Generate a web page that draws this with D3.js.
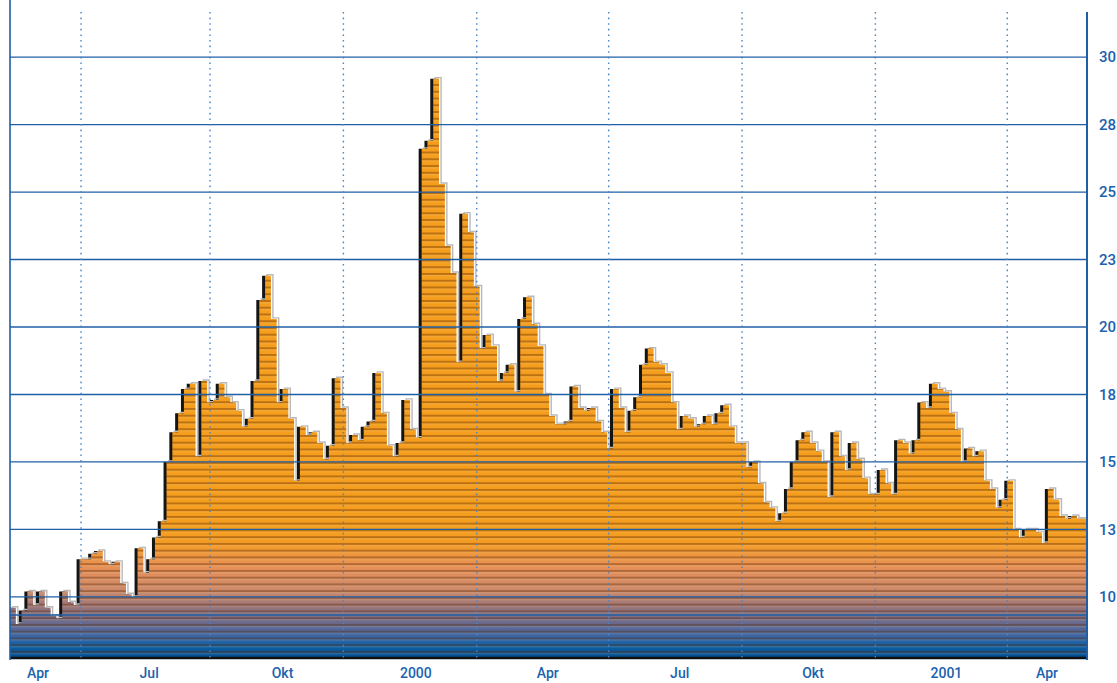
<!DOCTYPE html>
<html>
<head>
<meta charset="utf-8">
<script src="https://cdn.jsdelivr.net/npm/d3@7"></script>
<style>
    body { margin: 0; background: #fff; }
    #chart-area { width: 1117px; height: 683px; }
    .axis-label {
        font-family: Roboto, "Liberation Sans", sans-serif;
        font-weight: 500;
        font-size: 15px;
        fill: #1a62ae;
    }
    .x-label { font-size: 14px; }
</style>
</head>
<body>
<div id="chart-area"></div>
<script>

// first observation, then one value every 4 days
const startDate = "1999-03-27";
const stepDays = 4;

const prices = [
    9.6, 9.0, 9.5, 10.2, 9.7, 10.2, 9.6, 9.3, 9.2, 10.2,
    9.8, 9.7, 11.4, 11.4, 11.6, 11.7, 11.3, 11.2, 11.3, 10.5,
    10.1, 10.0, 11.8, 10.9, 11.4, 12.2, 12.8, 15.0, 16.1, 16.8,
    17.7, 17.9, 15.2, 18.0, 17.2, 17.3, 17.9, 17.4, 17.2, 16.9,
    16.3, 16.6, 18.0, 21.0, 21.9, 20.3, 17.2, 17.7, 16.6, 14.3,
    16.3, 16.0, 16.1, 15.7, 15.1, 15.6, 18.1, 17.0, 15.7, 16.0,
    15.8, 16.3, 16.5, 18.3, 16.8, 15.6, 15.2, 15.7, 17.3, 16.2,
    15.9, 26.6, 26.9, 29.2, 25.3, 23.0, 22.0, 18.7, 24.2, 23.5,
    21.5, 19.2, 19.7, 19.3, 18.0, 18.3, 18.6, 17.6, 20.3, 21.1,
    20.1, 19.3, 17.5, 16.7, 16.4, 16.4, 16.5, 17.8, 17.0, 16.9,
    17.0, 16.5, 16.1, 15.5, 17.7, 17.0, 16.1, 16.9, 17.4, 18.6,
    19.2, 18.7, 18.6, 18.3, 17.2, 16.2, 16.7, 16.6, 16.3, 16.4,
    16.7, 16.4, 16.8, 17.1, 16.3, 15.7, 15.7, 14.8, 15.0, 14.2,
    13.5, 13.3, 12.8, 13.1, 14.0, 15.0, 15.8, 16.1, 15.7, 15.4,
    15.0, 13.7, 16.1, 15.2, 14.7, 15.7, 15.1, 14.4, 13.8, 13.8,
    14.7, 14.2, 13.8, 15.8, 15.7, 15.3, 15.8, 17.2, 17.0, 17.9,
    17.7, 17.6, 16.8, 16.2, 15.0, 15.5, 15.2, 15.4, 14.3, 14.0,
    13.3, 13.6, 14.3, 12.5, 12.2, 12.5, 12.5, 12.4, 12.0, 14.0,
    13.6, 13.0, 12.9, 13.0, 12.9, 12.9
];

const timeDomain = ["1999-03-27", "2001-04-08"];
const priceDomain = [7.7, 31.67];

const monthTicks = ["1999-04-01", "1999-07-01", "1999-10-01", "2000-01-01", "2000-04-01",
    "2000-07-01", "2000-10-01", "2001-01-01", "2001-04-01"];
const monthLabels = ["Apr", "Jul", "Okt", "2000", "Apr", "Jul", "Okt", "2001", "Apr"];

// dotted separators
const quarterMarks = ["1999-05-15", "1999-08-12", "1999-11-12", "2000-02-12",
    "2000-05-13", "2000-08-13", "2000-11-13", "2001-02-12"];

const priceTicks = [10, 12.5, 15, 17.5, 20, 22.5, 25, 27.5, 30];
const priceLabels = ["10", "13", "15", "18", "20", "23", "25", "28", "30"];
const extraLines = [9.33];


class PriceChart {

    constructor(_parentElement, _data) {
        this.parentElement = _parentElement;
        this.data = _data;
        this.initVis();
    }

    initVis() {
        let vis = this;

        vis.margin = { top: 12, right: 30, bottom: 24, left: 10 };
        vis.width = 1117 - vis.margin.left - vis.margin.right;
        vis.height = 683 - vis.margin.top - vis.margin.bottom;

        vis.root = d3.select("#" + vis.parentElement).append("svg")
            .attr("width", 1117)
            .attr("height", 683);

        vis.svg = vis.root.append("g")
            .attr("transform", "translate(" + vis.margin.left + "," + vis.margin.top + ")");

        let parse = d3.timeParse("%Y-%m-%d");

        vis.x = d3.scaleTime()
            .domain(timeDomain.map(parse))
            .range([0, vis.width]);

        vis.y = d3.scaleLinear()
            .domain(priceDomain)
            .range([vis.height, 0]);

        let defs = vis.root.append("defs");

        defs.append("clipPath").attr("id", "plot-clip")
            .append("rect")
            .attr("x", 0).attr("y", -vis.margin.top)
            .attr("width", vis.width).attr("height", vis.height + vis.margin.top);

        // orange -> blue fade at the foot of the area
        let grad = defs.append("linearGradient")
            .attr("id", "fade")
            .attr("gradientUnits", "userSpaceOnUse")
            .attr("x1", 0).attr("x2", 0)
            .attr("y1", vis.height - 129).attr("y2", vis.height);
        [
            [0, "#f59e1e"], [0.1, "#f39c26"], [0.3, "#e6905a"], [0.48, "#c9896c"],
            [0.6, "#98747a"], [0.72, "#6a6a8e"], [0.82, "#3e66a4"], [0.9, "#0f5fa2"], [1, "#004a8c"]
        ].forEach(s => grad.append("stop").attr("offset", s[0]).attr("stop-color", s[1]));

        // horizontal stripes, 10 per grid step
        let stripe = (vis.y(10) - vis.y(12.5)) / 10;
        let pat = defs.append("pattern")
            .attr("id", "stripes")
            .attr("patternUnits", "userSpaceOnUse")
            .attr("width", 8).attr("height", stripe)
            .attr("y", vis.y(30));
        pat.append("rect").attr("width", 8).attr("height", 2).attr("fill", "rgba(95,40,0,0.38)");
        pat.append("rect").attr("y", 2).attr("width", 8).attr("height", 1.3).attr("fill", "rgba(255,240,210,0.15)");

        vis.wrangleData();
    }

    wrangleData() {
        let vis = this;
        let start = d3.timeParse("%Y-%m-%d")(startDate);

        vis.displayData = vis.data.map((v, i) => ({ date: d3.timeDay.offset(start, i * stepDays), value: v }));
        // hold the last value for one more step
        let last = vis.displayData[vis.displayData.length - 1];
        vis.displayData.push({ date: d3.timeDay.offset(last.date, stepDays), value: last.value });

        vis.updateVis();
    }

    updateVis() {
        let vis = this;
        let parse = d3.timeParse("%Y-%m-%d");

        vis.area = d3.area()
            .curve(d3.curveStepAfter)
            .x(d => vis.x(d.date))
            .y0(vis.height)
            .y1(d => vis.y(d.value));

        vis.line = d3.line()
            .curve(d3.curveStepAfter)
            .x(d => vis.x(d.date))
            .y(d => vis.y(d.value));

        let marks = vis.svg.append("g").attr("clip-path", "url(#plot-clip)");

        // black shadow on the left
        marks.append("path")
            .attr("d", vis.area(vis.displayData))
            .attr("transform", "translate(-3,0)")
            .attr("fill", "#141414");

        // light rim on the right
        marks.append("path")
            .attr("d", vis.line(vis.displayData))
            .attr("transform", "translate(2,-1)")
            .attr("fill", "none")
            .attr("stroke", "#b9b9b9")
            .attr("stroke-width", 1.4);

        marks.append("path")
            .attr("d", vis.area(vis.displayData))
            .attr("fill", "url(#fade)");

        marks.append("path")
            .attr("d", vis.area(vis.displayData))
            .attr("fill", "url(#stripes)");

        // bottom edge
        vis.svg.append("line")
            .attr("x1", 0).attr("x2", vis.width)
            .attr("y1", vis.height - 1).attr("y2", vis.height - 1)
            .attr("stroke", "#111").attr("stroke-width", 2.5);

        // gridlines
        vis.svg.selectAll(".grid")
            .data(priceTicks.concat(extraLines))
            .enter().append("line")
            .attr("class", "grid")
            .attr("x1", 0).attr("x2", vis.width)
            .attr("y1", d => vis.y(d)).attr("y2", d => vis.y(d))
            .attr("stroke", "#1f5fa6")
            .attr("stroke-width", 1.3);

        vis.svg.selectAll(".quarter")
            .data(quarterMarks.map(parse))
            .enter().append("line")
            .attr("class", "quarter")
            .attr("x1", d => vis.x(d)).attr("x2", d => vis.x(d))
            .attr("y1", 0).attr("y2", vis.height)
            .attr("stroke", "#4a84c8")
            .attr("stroke-width", 1.4)
            .attr("stroke-dasharray", "1.6 4");

        // frame
        vis.svg.append("line")
            .attr("x1", 0).attr("x2", 0)
            .attr("y1", -vis.margin.top).attr("y2", vis.height + 1)
            .attr("stroke", "#1f5fa6").attr("stroke-width", 1.6);
        vis.svg.append("line")
            .attr("x1", vis.width).attr("x2", vis.width)
            .attr("y1", 0).attr("y2", vis.height + 1)
            .attr("stroke", "#1f5fa6").attr("stroke-width", 2);

        // y labels on the right
        vis.svg.selectAll(".y-label")
            .data(priceTicks)
            .enter().append("text")
            .attr("class", "axis-label y-label")
            .attr("x", vis.width + 12)
            .attr("y", d => vis.y(d))
            .attr("dy", "0.36em")
            .text((d, i) => priceLabels[i]);

        // x labels, kept inside the plot at the edges
        vis.svg.selectAll(".x-label")
            .data(monthTicks.map(parse))
            .enter().append("text")
            .attr("class", "axis-label x-label")
            .attr("x", d => Math.max(28, Math.min(vis.width - 40, vis.x(d))))
            .attr("y", vis.height + 19)
            .attr("text-anchor", "middle")
            .text((d, i) => monthLabels[i]);
    }
}

new PriceChart("chart-area", prices);

</script>
</body>
</html>
